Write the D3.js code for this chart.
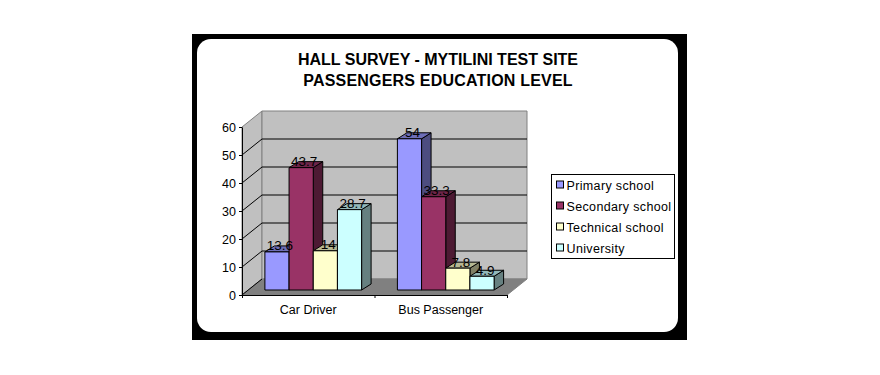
<!DOCTYPE html>
<html>
<head>
<meta charset="utf-8">
<script src="https://cdn.jsdelivr.net/npm/d3@7"></script>
<style>
    html, body { margin: 0; padding: 0; background: #fff; }
    svg { display: block; }
    text { font-family: "Liberation Sans", Arial, sans-serif; fill: #000; }
    .axis text { font-size: 12.5px; }
    .axis path, .axis line { stroke: #000; }
</style>
</head>
<body>
<div id="chart"></div>
<script>
const titleLines = ["HALL SURVEY - MYTILINI TEST SITE", "PASSENGERS EDUCATION LEVEL"];
const categories = ["Car Driver", "Bus Passenger"];
const seriesNames = ["Primary school", "Secondary school", "Technical school", "University"];
const primary = [13.6, 54];
const secondary = [43.7, 33.3];
const technical = [14, 7.8];
const university = [28.7, 4.9];
const seriesValues = [primary, secondary, technical, university];
const yTicks = [0, 10, 20, 30, 40, 50, 60];
const colors = ["#9999ff", "#993366", "#ffffcc", "#ccffff"];

const config = {
    width: 880, height: 375,
    plot: {left: 242, right: 507, top: 127, bottom: 295},
    wallDepth: {x: 20, y: -16},
    barDepth: {x: 9.5, y: -6},
    barInset: {x: 5, y: -5}
};

const svg = d3.select("#chart").append("svg")
    .attr("width", config.width)
    .attr("height", config.height);

// Black frame with the white rounded panel inside
svg.append("rect").attr("x", 192).attr("y", 34).attr("width", 495).attr("height", 306).attr("fill", "#000");
svg.append("rect").attr("x", 197).attr("y", 39).attr("width", 481).attr("height", 293).attr("rx", 14).attr("fill", "#fff");

svg.append("g").selectAll("text")
    .data(titleLines)
    .join("text")
    .attr("x", 438)
    .attr("y", (d, i) => 65 + i * 21)
    .attr("text-anchor", "middle")
    .attr("font-size", "16px")
    .attr("font-weight", "bold")
    .attr("letter-spacing", (d, i) => i ? "0.2px" : null)
    .text(d => d);

const p = config.plot, wd = config.wallDepth, bd = config.barDepth, inset = config.barInset;

const yScale = d3.scaleLinear().domain([0, 60]).range([p.bottom, p.top]);
const xScale = d3.scaleBand().domain(categories).range([p.left, p.right]);
const xSeries = d3.scaleBand().domain(seriesNames).range([0, xScale.bandwidth()]).paddingOuter(0.74).paddingInner(0);
const xTicks = d3.scaleLinear().domain([0, categories.length]).range([p.left, p.right]);

const poly = pts => d3.line()(pts) + "Z";

// Walls and floor
const walls = svg.append("g");
walls.append("path")
    .attr("d", poly([[p.left, p.bottom], [p.left + wd.x, p.bottom + wd.y], [p.left + wd.x, p.top + wd.y], [p.left, p.top]]))
    .attr("fill", "#c0c0c0").attr("stroke", "#808080");
walls.append("path")
    .attr("d", poly([[p.left + wd.x, p.bottom + wd.y], [p.right + wd.x, p.bottom + wd.y], [p.right + wd.x, p.top + wd.y], [p.left + wd.x, p.top + wd.y]]))
    .attr("fill", "#c0c0c0").attr("stroke", "#808080");
walls.append("path")
    .attr("d", poly([[p.left, p.bottom], [p.right, p.bottom], [p.right + wd.x, p.bottom + wd.y], [p.left + wd.x, p.bottom + wd.y]]))
    .attr("fill", "#808080").attr("stroke", "#808080");

// Gridlines run along the left wall and then across the back wall
walls.selectAll(".grid")
    .data(yTicks.slice(1, -1))
    .join("path")
    .attr("class", "grid")
    .attr("fill", "none")
    .attr("stroke", "#000")
    .attr("d", d => d3.line()([[p.left, yScale(d)], [p.left + wd.x, yScale(d) + wd.y], [p.right + wd.x, yScale(d) + wd.y]]));
walls.append("path")
    .attr("fill", "none")
    .attr("stroke", "#000")
    .attr("d", d3.line()([[p.left, yScale(0)], [p.left + wd.x, yScale(0) + wd.y]]));

// Flatten to one record per bar, left to right so later fronts cover earlier sides
const bars = [];
categories.forEach((c, ci) => {
    seriesNames.forEach((s, si) => {
        bars.push({category: c, series: s, value: seriesValues[si][ci], color: colors[si]});
    });
});

const darker = (c, k) => {
    const rgb = d3.rgb(c);
    return d3.rgb(rgb.r * k, rgb.g * k, rgb.b * k).formatHex();
};

const bar = svg.append("g").selectAll("g")
    .data(bars)
    .join("g")
    .attr("stroke", "#000")
    .attr("stroke-width", 1)
    .attr("stroke-linejoin", "round");

const x0 = d => xScale(d.category) + xSeries(d.series) + inset.x;
const x1 = d => x0(d) + xSeries.bandwidth();
const yBase = yScale(0) + inset.y;
const yTop = d => yScale(d.value) + inset.y;

bar.append("path")
    .attr("fill", d => darker(d.color, 0.5))
    .attr("d", d => poly([[x1(d), yBase], [x1(d) + bd.x, yBase + bd.y], [x1(d) + bd.x, yTop(d) + bd.y], [x1(d), yTop(d)]]));
bar.append("path")
    .attr("fill", d => darker(d.color, 0.72))
    .attr("d", d => poly([[x0(d), yTop(d)], [x1(d), yTop(d)], [x1(d) + bd.x, yTop(d) + bd.y], [x0(d) + bd.x, yTop(d) + bd.y]]));
bar.append("rect")
    .attr("fill", d => d.color)
    .attr("x", x0)
    .attr("y", yTop)
    .attr("width", xSeries.bandwidth())
    .attr("height", d => yBase - yTop(d));

// Value labels sit on top of all bars
svg.append("g").selectAll("text")
    .data(bars)
    .join("text")
    .attr("x", d => (x0(d) + x1(d)) / 2 + 3)
    .attr("y", d => yTop(d) - 1.5)
    .attr("text-anchor", "middle")
    .attr("font-size", "13.5px")
    .attr("fill", "#333")
    .text(d => d.value);

// Axes
svg.append("g")
    .attr("class", "axis")
    .attr("transform", `translate(${p.left},0)`)
    .call(d3.axisLeft(yScale).tickValues(yTicks).tickSize(3).tickPadding(3).tickSizeOuter(0));
svg.append("g")
    .attr("class", "axis")
    .attr("transform", `translate(0,${p.bottom})`)
    .call(d3.axisBottom(xTicks).ticks(categories.length).tickSize(3).tickSizeOuter(0).tickFormat(""));

svg.append("g").selectAll("text")
    .data(categories)
    .join("text")
    .attr("x", d => xScale(d) + xScale.bandwidth() / 2)
    .attr("y", 314)
    .attr("text-anchor", "middle")
    .attr("font-size", "12.5px")
    .text(d => d);

// Legend
const legend = svg.append("g").attr("transform", "translate(551.5,174.5)");
legend.append("rect").attr("width", 123).attr("height", 84).attr("fill", "#fff").attr("stroke", "#000");
const legendRow = legend.selectAll(".row")
    .data(seriesNames)
    .join("g")
    .attr("class", "row")
    .attr("transform", (d, i) => `translate(5,${10.5 + i * 21})`);
legendRow.append("rect")
    .attr("y", -4)
    .attr("width", 7)
    .attr("height", 7)
    .attr("fill", (d, i) => colors[i])
    .attr("stroke", "#000");
legendRow.append("text")
    .attr("x", 10)
    .attr("y", 4.5)
    .attr("font-size", "12.5px")
    .attr("letter-spacing", "0.35px")
    .text(d => d);
</script>
</body>
</html>
